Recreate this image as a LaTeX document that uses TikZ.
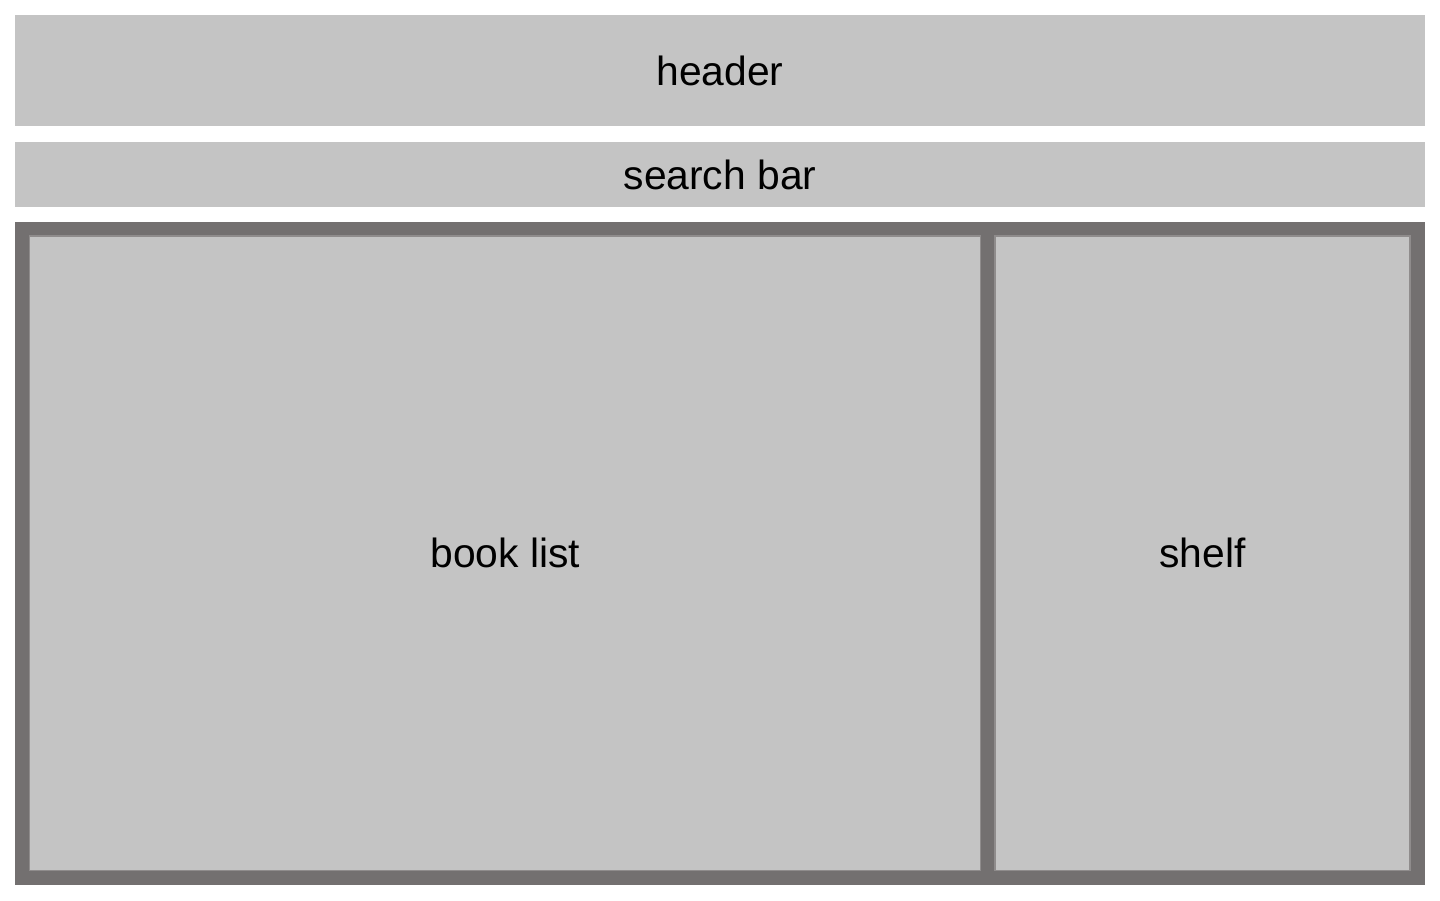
\documentclass[tikz,border=0pt]{standalone}
\usepackage{fontspec}
\setmainfont{Liberation Sans}
\definecolor{panelgray}{HTML}{C4C4C4}
\definecolor{framegray}{HTML}{737070}
\definecolor{edgegray}{HTML}{8F8C8C}
\begin{document}
\begin{tikzpicture}[
    x=0.01cm, y=-0.01cm,
    font=\fontsize{11.6}{14}\selectfont,
    panel/.style={fill=panelgray, inner sep=0pt, outer sep=0pt, minimum width=14.1cm},
    frame/.style={fill=framegray, inner sep=0pt, outer sep=0pt, minimum width=14.1cm, minimum height=6.63cm},
    pane/.style={fill=panelgray, draw=edgegray, line width=0.4pt, inner sep=0pt, outer sep=0pt, minimum height=6.345cm}
]
\useasboundingbox (0,0) rectangle (1440,900);

% header
\node[panel, minimum height=1.11cm] (header) at (720,70.5) {header};

% search bar
\node[panel, minimum height=0.65cm] (search) at (720,174.5) {search bar};

% main area
\node[frame] (main) at (720,553.5) {};

% book list
\node[pane, minimum width=9.505cm] (booklist) at (505.25,553.25) {book list};

% shelf
\node[pane, minimum width=4.15cm] (shelf) at (1202.5,553.25) {shelf};

\end{tikzpicture}
\end{document}
